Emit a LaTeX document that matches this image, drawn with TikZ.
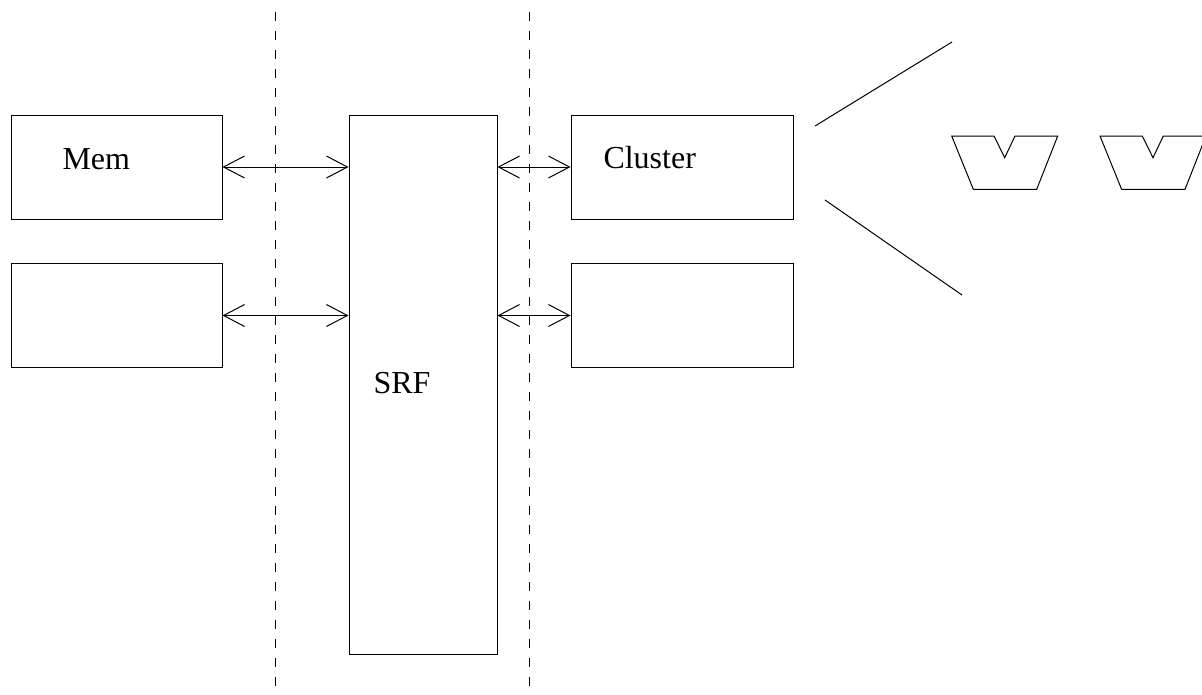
\documentclass[tikz,border=0pt]{standalone}
\usepackage{fontspec}
\setmainfont{Liberation Serif}
\usetikzlibrary{arrows.meta}
\begin{document}
\begin{tikzpicture}[x=1pt,y=-1pt,line width=1pt,
  unit/.style={draw,rectangle,inner sep=0pt,minimum width=211pt,minimum height=104pt},
  lbl/.style={anchor=base west,inner sep=0pt,font=\fontsize{32}{36}\selectfont},
  link/.style={{Straight Barb[length=21pt,width=22pt]}-{Straight Barb[length=21pt,width=22pt]}},
  divider/.style={dash pattern=on 9pt off 10pt},
  pe/.style={line join=miter}]
\useasboundingbox (0,0) rectangle (1202,694);

% memory side
\node[unit] (mem) at (116.5,167) {};
\node[unit] (mem2) at (116.5,315.5) {};
% stream register file
\node[draw,rectangle,inner sep=0pt,minimum width=148pt,minimum height=539pt] (srf) at (423,384.5) {};
% cluster side
\node[unit,minimum width=222pt] (cl) at (682,167) {};
\node[unit,minimum width=222pt] (cl2) at (682,315.5) {};

\node[lbl] (memlbl) at (62,169) {Mem};
\node[lbl] (cllbl) at (603,168) {Cluster};
\node[lbl] (srflbl) at (373,393) {SRF};

% links
\draw[link] (mem.east) -- (mem.east -| srf.west);
\draw[link] (mem2.east) -- (mem2.east -| srf.west);
\draw[link] (srf.east |- cl.west) -- (cl.west);
\draw[link] (srf.east |- cl2.west) -- (cl2.west);

% clock-domain boundaries
\coordinate (d1t) at (275,11.5);
\coordinate (d1b) at (275,694);
\coordinate (d2t) at (529,11.5);
\coordinate (d2b) at (529,694);
\draw[divider] (d1t) -- (d1b);
\draw[divider] (d2t) -- (d2b);

% zoom-out fan from the cluster
\draw (815,126) -- (952,42);
\draw (825,200) -- (962,295);

% functional units
\begin{scope}
\clip (0,0) rectangle (1202,694);
\foreach \dx in {0,148.3}{
  \draw[pe,xshift=\dx] (951.7,136) -- (994,136) -- (1004.7,157.7) -- (1015,136)
     -- (1057.7,136) -- (1036.7,189.3) -- (973.3,189.3) -- cycle;
}
\end{scope}
\end{tikzpicture}
\end{document}
